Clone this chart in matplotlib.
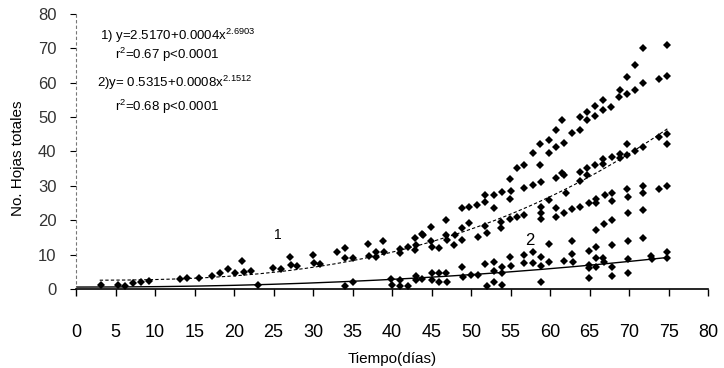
import numpy as np
import matplotlib
matplotlib.use('Agg')
import matplotlib.pyplot as plt

plt.rcParams['font.family'] = ['Liberation Sans', 'DejaVu Sans']
plt.rcParams['mathtext.fontset'] = 'custom'
plt.rcParams['mathtext.rm'] = 'Liberation Sans'
plt.rcParams['mathtext.it'] = 'Liberation Sans'

# ── Datos ──
# serie 1 (puntos superiores)
dias_1 = [3.2, 5.3, 6.25, 7.25, 8.2, 9.2, 13.2, 14.0, 15.6, 17.2, 18.2, 19.2, 20.1, 21.0, 21.25,
          22.1, 24.9, 25.9, 27.1, 27.2, 28.0, 30.0, 30.1, 30.9, 33.0, 34.0, 34.0, 35.1, 37.0, 37.1,
          38.0, 38.0, 38.9, 39.0, 41.0, 41.0, 42.0, 42.9, 42.9, 43.8, 43.0, 43.9, 44.9, 44.9, 45.0,
          45.9, 46.8, 46.8, 47.0, 48.0, 47.9, 48.8, 48.8, 48.9, 49.7, 49.7, 50.8, 50.9, 51.8, 51.8,
          51.8, 52.0, 52.9, 52.9, 53.75, 53.8, 53.9, 54.9, 54.9, 55.0, 54.9, 55.8, 55.8, 56.75, 56.75,
          56.75, 57.8, 57.8, 58.75, 58.75, 58.8, 58.8, 58.8, 58.8, 59.9, 59.9, 59.9, 60.7, 60.8, 60.8,
          60.8, 60.8, 61.5, 61.5,
          71.75, 74.75, 70.7, 69.75, 71.75, 73.75, 74.75, 68.8, 68.75, 69.75, 70.7, 66.75, 66.75, 65.7,
          65.7, 67.7, 64.7, 64.7, 63.75, 63.75, 62.8, 61.75, 73.75, 74.75, 74.75, 69.75, 71.75, 70.8,
          69.75, 68.8, 67.8, 66.75,
          61.75, 62.0, 61.75, 62.8, 63.75, 63.75, 63.75, 64.7, 64.7, 64.9, 65.7, 65.8, 65.8, 66.75,
          66.9, 67.9, 67.9, 68.8, 69.75, 69.9, 71.75, 71.75, 73.75, 74.75,
          65.8, 66.8, 67.8, 69.9, 71.75, 62.8, 64.9, 65.8, 67.9, 69.9, 71.75, 59.9]
hojas_1 = [1.0, 1.2, 0.9, 1.8, 2.0, 2.4, 2.8, 3.2, 3.1, 3.8, 4.6, 5.9, 4.7, 8.0, 5.0,
           5.3, 6.0, 5.7, 9.2, 7.0, 6.7, 9.9, 7.5, 7.2, 10.8, 11.8, 8.9, 8.9, 13.1, 9.6,
           10.8, 9.2, 14.0, 10.6, 11.5, 10.4, 12.1, 14.7, 11.3, 16.0, 12.8, 15.7, 17.9, 13.8, 12.3,
           11.8, 19.9, 15.7, 14.2, 15.7, 12.8, 23.5, 17.6, 14.2, 23.9, 19.1, 24.4, 15.2, 27.3, 25.4,
           18.3, 16.4, 27.3, 23.5, 19.6, 17.6, 28.3, 31.9, 26.1, 28.6, 20.3, 35.1, 21.0, 36.0, 29.3,
           21.5, 39.6, 30.2, 42.2, 36.0, 31.2, 23.9, 22.0, 20.3, 43.3, 39.4, 25.9, 46.2, 41.4, 32.2,
           23.5, 21.0, 49.1, 33.6,
           70.0, 70.9, 65.1, 61.7, 60.0, 61.0, 61.9, 58.0, 55.9, 56.7, 57.8, 55.1, 52.2, 53.2,
           50.3, 52.8, 51.5, 49.1, 50.1, 46.2, 45.3, 42.4, 44.3, 45.1, 42.2, 42.2, 41.2, 40.2,
           39.0, 39.2, 38.5, 37.7,
           33.1, 28.0, 22.2, 23.2, 23.7, 34.1, 31.5, 35.1, 33.1, 25.1, 36.0, 26.1, 25.1, 36.3,
           27.3, 27.8, 25.7, 38.0, 29.0, 26.8, 29.9, 27.8, 29.0, 29.9,
           17.2, 18.9, 19.9, 22.2, 23.0, 14.0, 11.1, 12.1, 12.8, 14.0, 14.7, 13.1]

# serie 2 (puntos inferiores)
dias_2 = [23.0, 34.0, 35.0, 39.9, 40.0, 41.0, 41.0, 42.0, 43.0, 43.0, 43.8, 45.0, 45.1, 45.9,
          46.0, 46.8, 47.0, 48.9, 49.0, 50.0, 50.9, 51.8, 52.0, 52.9, 52.9, 52.9, 53.9, 53.9,
          53.9, 54.9, 55.0, 56.75, 56.75, 57.8, 57.9, 58.8, 58.8, 58.8, 59.9, 61.8, 62.8, 62.9,
          64.9, 64.9, 64.9, 65.8, 65.8, 66.75, 66.8, 67.9, 67.9, 69.9, 69.9, 72.8, 72.9, 74.75, 74.75]
hojas_2 = [1.2, 0.9, 2.1, 2.8, 1.2, 2.6, 0.9, 0.9, 3.8, 2.6, 2.8, 4.7, 2.6, 4.6,
           2.1, 4.7, 2.1, 6.3, 3.6, 4.1, 4.1, 7.3, 0.7, 7.9, 5.3, 2.1, 6.5, 4.7,
           1.2, 9.4, 6.7, 9.9, 7.5, 10.8, 7.6, 9.4, 6.7, 2.1, 7.9, 8.2, 10.2, 7.9,
           7.0, 6.0, 3.1, 8.9, 6.3, 8.9, 7.9, 6.5, 3.8, 8.6, 4.7, 9.6, 8.6, 10.8, 8.9]

# ajustes y = a + b x^c
a1, b1, c1 = 2.5170, 0.0004, 2.6903
a2, b2, c2 = 0.5315, 0.0008, 2.1512

x_ticks = list(range(0, 85, 5))
y_ticks = list(range(0, 90, 10))

fig = plt.figure(figsize=(7.24, 3.68), dpi=100)
ax = fig.add_axes([0.105, 0.215, 0.873, 0.747])

ax.plot(dias_1, hojas_1, 'D', color='black', markersize=3.8, markeredgewidth=0)
ax.plot(dias_2, hojas_2, 'D', color='black', markersize=3.8, markeredgewidth=0)

xf = np.linspace(3, 75, 200)
ax.plot(xf, a1 + b1 * xf ** c1, color='black', linewidth=0.8, linestyle=(0, (3, 2)))
xf2 = np.linspace(0, 75, 200)
ax.plot(xf2, a2 + b2 * xf2 ** c2, color='black', linewidth=1.0)

ax.text(25.5, 15.7, '1', fontsize=10, ha='center', va='center')
ax.text(57.4, 14.2, '2', fontsize=12, ha='center', va='center')

ax.set_xlim(0, 80)
ax.set_ylim(0, 80)
ax.set_xticks(x_ticks)
ax.set_yticks(y_ticks)
ax.tick_params(axis='x', direction='out', length=5, width=1, pad=20, labelsize=13)
ax.tick_params(axis='y', direction='out', length=4, width=0.8, pad=10, labelsize=12,
               labelcolor='#333333')
ax.spines['top'].set_visible(False)
ax.spines['right'].set_visible(False)
ax.spines['bottom'].set_linewidth(1.2)
ax.spines['left'].set_linestyle((0, (2, 3)))
ax.spines['left'].set_color('#777777')
ax.spines['left'].set_linewidth(0.8)

ax.set_xlabel('Tiempo(días)', fontsize=11, labelpad=8)
fig.text(18 / 724, 1 - 158 / 368, 'No. Hojas totales', rotation=90, fontsize=11,
         ha='center', va='center')

fig.text(100 / 724, 1 - 36 / 368, r'1) y=2.5170+0.0004x$^{2.6903}$', fontsize=9.5, va='center')
fig.text(115 / 724, 1 - 55 / 368, r'r$^{2}$=0.67 p<0.0001', fontsize=9.5, va='center')
fig.text(97 / 724, 1 - 83 / 368, r'2)y= 0.5315+0.0008x$^{2.1512}$', fontsize=9.5, va='center')
fig.text(115 / 724, 1 - 107 / 368, r'r$^{2}$=0.68 p<0.0001', fontsize=9.5, va='center')

fig.savefig('out.png', dpi=100)
